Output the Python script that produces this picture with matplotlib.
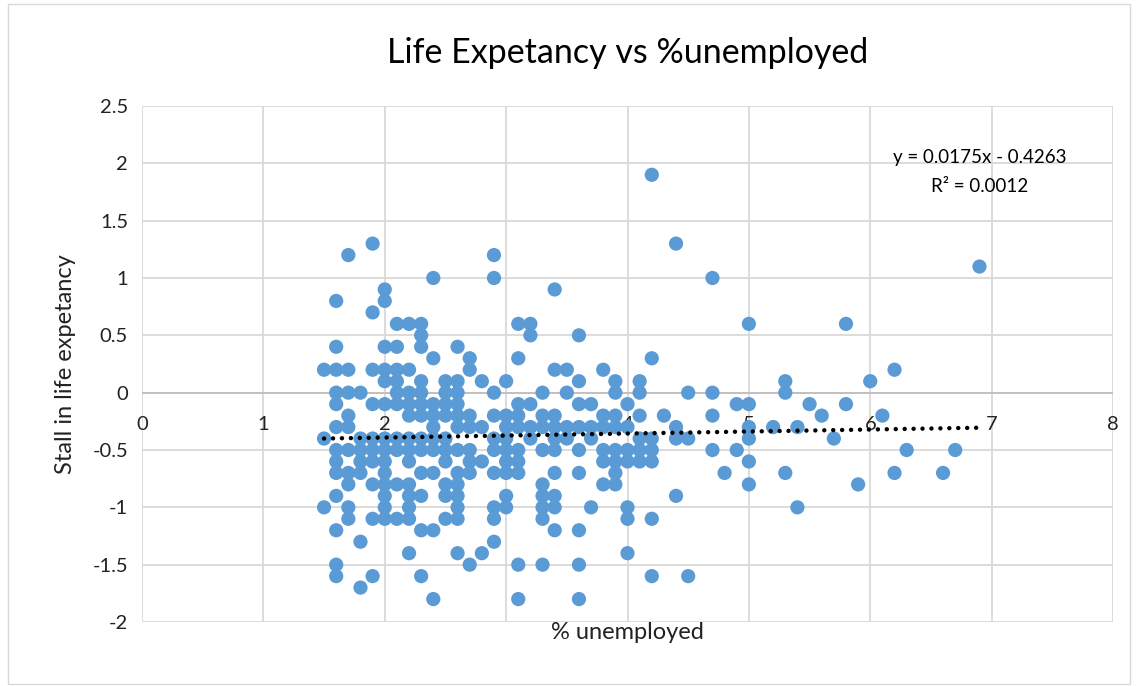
import matplotlib
matplotlib.use("Agg")
import matplotlib.pyplot as plt
from matplotlib.patches import Rectangle

plt.rcParams['font.family'] = ['Lato', 'DejaVu Sans']

# columns of points: x value -> list of y values
x_cols = [1.5, 1.6, 1.7, 1.8, 1.9, 2.0, 2.1, 2.2, 2.3, 2.4, 2.5, 2.6, 2.7, 2.8, 2.9,
          3.0, 3.1, 3.2, 3.3, 3.4, 3.5, 3.6, 3.7, 3.8, 3.9, 4.0, 4.1, 4.2, 4.3, 4.4,
          4.5, 4.7, 4.8, 4.9, 5.0, 5.2, 5.3, 5.4, 5.5, 5.6, 5.7, 5.8, 5.9, 6.0, 6.1,
          6.2, 6.3, 6.6, 6.7, 6.9]
y_cols = [
    [0.2, -0.4, -1.0],
    [0.8, 0.4, 0.2, 0.0, -0.1, -0.3, -0.5, -0.6, -0.7, -0.9, -1.2, -1.5, -1.6],
    [1.2, 0.2, 0.0, -0.2, -0.3, -0.5, -0.7, -0.8, -1.0, -1.1],
    [0.0, -0.4, -0.5, -0.6, -0.7, -1.3, -1.7],
    [1.3, 0.7, 0.2, -0.1, -0.4, -0.5, -0.6, -0.8, -1.1, -1.6],
    [0.9, 0.8, 0.4, 0.2, 0.1, -0.1, -0.4, -0.5, -0.6, -0.7, -0.8, -0.9, -1.0, -1.1],
    [0.6, 0.4, 0.2, 0.1, 0.0, -0.1, -0.4, -0.5, -0.8, -1.1],
    [0.6, 0.2, 0.0, -0.1, -0.2, -0.4, -0.5, -0.6, -0.8, -0.9, -1.0, -1.1, -1.4],
    [0.6, 0.5, 0.4, 0.1, 0.0, -0.1, -0.2, -0.4, -0.5, -0.7, -0.9, -1.2, -1.6],
    [1.0, 0.3, -0.1, -0.2, -0.3, -0.4, -0.5, -0.7, -1.2, -1.8],
    [0.1, 0.0, -0.1, -0.2, -0.4, -0.5, -0.6, -0.8, -0.9, -1.1],
    [0.4, 0.1, 0.0, -0.1, -0.2, -0.3, -0.5, -0.7, -0.8, -0.9, -1.0, -1.1, -1.4],
    [0.3, 0.2, -0.2, -0.3, -0.5, -0.6, -0.7, -1.5],
    [0.1, -0.3, -0.6, -1.4],
    [1.2, 1.0, 0.0, -0.2, -0.4, -0.5, -0.7, -1.0, -1.1, -1.3],
    [0.1, -0.2, -0.3, -0.4, -0.5, -0.6, -0.7, -0.9, -1.0],
    [0.6, 0.3, -0.1, -0.2, -0.3, -0.5, -0.6, -0.7, -1.5, -1.8],
    [0.6, 0.5, -0.1, -0.3, -0.4],
    [0.0, -0.2, -0.3, -0.5, -0.8, -0.9, -1.0, -1.1, -1.5],
    [0.9, 0.2, -0.2, -0.3, -0.4, -0.5, -0.7, -0.9, -1.0, -1.2],
    [0.2, 0.0, -0.3, -0.4],
    [0.5, 0.1, -0.1, -0.3, -0.5, -0.7, -1.2, -1.5, -1.8],
    [-0.1, -0.3, -0.4, -1.0],
    [0.2, -0.2, -0.3, -0.5, -0.6, -0.8],
    [0.1, 0.0, -0.2, -0.3, -0.5, -0.6, -0.7, -0.8],
    [-0.1, -0.3, -0.5, -0.6, -1.0, -1.1, -1.4],
    [0.1, 0.0, -0.2, -0.4, -0.5, -0.6],
    [1.9, 0.3, -0.4, -0.5, -0.6, -1.1, -1.6],
    [-0.2],
    [1.3, -0.3, -0.4, -0.9],
    [0.0, -0.4, -1.6],
    [1.0, 0.0, -0.2, -0.5],
    [-0.7],
    [-0.1, -0.5],
    [0.6, -0.1, -0.3, -0.4, -0.6, -0.8],
    [-0.3],
    [0.1, 0.0, -0.7],
    [-0.3, -1.0],
    [-0.1],
    [-0.2],
    [-0.4],
    [0.6, -0.1],
    [-0.8],
    [0.1],
    [-0.2],
    [0.2, -0.7],
    [-0.5],
    [-0.7],
    [-0.5],
    [1.1],
]

slope = 0.0175
intercept = -0.4263
r2 = 0.0012

xs, ys = [], []
for xv, yl in zip(x_cols, y_cols):
    for yv in yl:
        xs.append(xv)
        ys.append(yv)

fig = plt.figure(figsize=(11.37, 6.86), dpi=100)
ax = fig.add_axes([142/1137, 1-622/686, (1113-142)/1137, (622-106)/686])

ax.set_xlim(0, 8)
ax.set_ylim(-2, 2.5)
ax.set_xticks(range(0, 9))
ax.set_yticks([-2, -1.5, -1, -0.5, 0, 0.5, 1, 1.5, 2, 2.5])
ax.grid(True, color='#D9D9D9', linewidth=1.3)
ax.set_axisbelow(True)
for s in ax.spines.values():
    s.set_visible(False)
ax.axhline(0, color='#BFBFBF', linewidth=1.3, zorder=1)

ax.scatter(xs, ys, s=105, color='#5B9BD5', edgecolors='none', zorder=3)

tx = [min(xs), max(xs)]
ty = [slope * t + intercept for t in tx]
ax.plot(tx, ty, color='black', linewidth=3.2, linestyle=(0, (0.01, 2.0)),
        dash_capstyle='round', zorder=4)

ax.text(6.9, 2.05, f"y = {slope}x - {abs(intercept)}", ha='center', va='center',
        fontsize=13.5, color='#000000', zorder=5)
ax.text(6.9, 1.80, f"R² = {r2}", ha='center', va='center', fontsize=13.5,
        color='#000000', zorder=5)

# y tick labels
ax.tick_params(axis='both', length=0, labelsize=14.5, labelcolor='#222222', pad=10)
ax.set_yticklabels(['-2', '-1.5', '-1', '-0.5', '0', '0.5', '1', '1.5', '2', '2.5'])
# x tick labels at the zero line
ax.set_xticklabels([])
for i in range(0, 9):
    ax.text(i, -0.28, str(i), ha='center', va='center', fontsize=14.5,
            color='#222222', zorder=2)

ax.set_xlabel('% unemployed', fontsize=17, color='#222222', labelpad=-10)
ax.set_ylabel('Stall in life expetancy', fontsize=17, color='#222222', labelpad=12)
fig.text(0.5 * (142 + 1113) / 1137, 1 - 53/686, 'Life Expetancy vs %unemployed',
         ha='center', va='center', fontsize=24.5, color='#000000')

fig.patches.append(Rectangle((8/1137, 2/686), 1122/1137, 680/686, transform=fig.transFigure,
                             fill=False, edgecolor='#D9D9D9', linewidth=1))

fig.savefig('out.png', dpi=100, facecolor='white')
